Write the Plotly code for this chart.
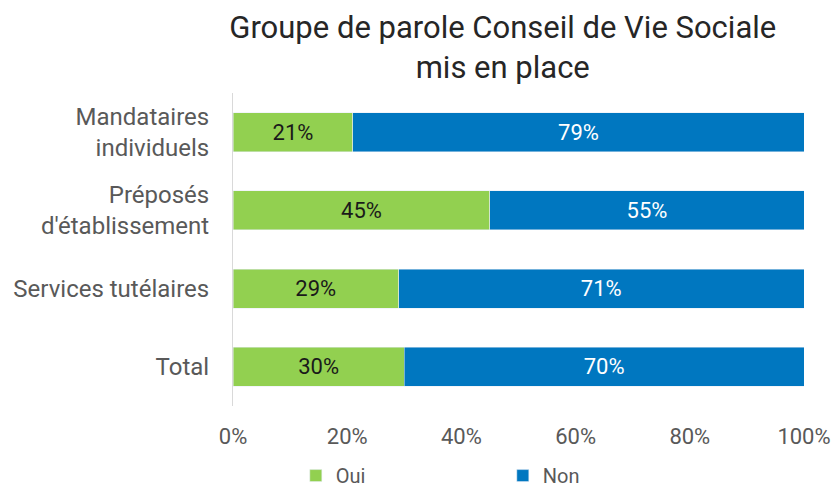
import plotly.graph_objects as go

categories = ["Mandataires<br>individuels", "Préposés<br>d'établissement",
              "Services tutélaires", "Total"]
oui = [21, 45, 29, 30]
non = [79, 55, 71, 70]

font = "Roboto"

fig = go.Figure()
fig.add_trace(go.Bar(y=categories, x=oui, orientation="h", name="Oui",
                     marker_color="#92D050", width=0.5,
                     text=[f"{v}%" for v in oui], textposition="inside",
                     insidetextanchor="middle",
                     textfont=dict(color="#1a1a1a", size=22, family=font)))
fig.add_trace(go.Bar(y=categories, x=non, orientation="h", name="Non",
                     marker_color="#0077C0", width=0.5,
                     text=[f"{v}%" for v in non], textposition="inside",
                     insidetextanchor="middle",
                     textfont=dict(color="white", size=22, family=font)))

fig.update_layout(
    barmode="stack",
    width=831, height=487,
    margin=dict(l=233, r=27, t=93, b=81, autoexpand=False),
    plot_bgcolor="white", paper_bgcolor="white",
    font=dict(family=font, color="#595959", size=22),
    title=dict(text="Groupe de parole Conseil de Vie Sociale<br>mis en place",
               x=0.605, xanchor="center", y=0.9225, yanchor="middle",
               font=dict(size=31, color="#262626", family=font)),
    legend=dict(orientation="h", x=0.11, xanchor="left", y=-0.16, yanchor="top",
                traceorder="normal", entrywidth=162, itemwidth=30,
                font=dict(size=20, color="#595959")),
    showlegend=True,
)
fig.update_xaxes(range=[0, 100], tickvals=[0, 20, 40, 60, 80, 100],
                 ticktext=["0%", "20%", "40%", "60%", "80%", "100%"],
                 showgrid=False, zeroline=False, showline=False, automargin=False,
                 ticklabelstandoff=15, tickfont=dict(size=22))
fig.update_yaxes(autorange="reversed", showgrid=False, showline=True, automargin=False,
                 linecolor="#d9d9d9", linewidth=1, ticklabelstandoff=18,
                 tickfont=dict(size=24))

# drop the browser's default 8px body margin so the figure fills the window
fig.write_html("out.html", config={"displayModeBar": False},
               post_script="document.body.style.margin='0';"
                           "document.body.style.overflow='hidden';")
